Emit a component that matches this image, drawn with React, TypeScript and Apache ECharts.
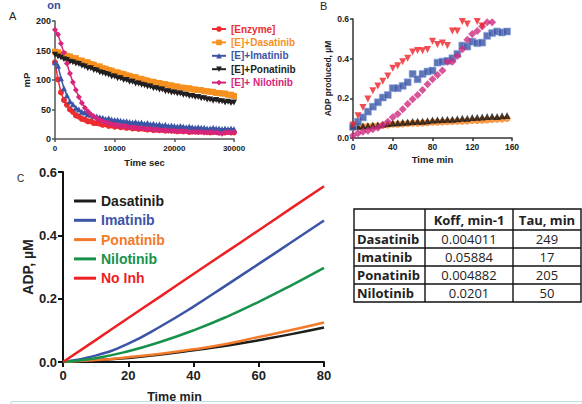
import React, { useEffect, useRef } from 'react';
import * as echarts from 'echarts';

const FONT = '"Liberation Sans", Arial, Helvetica, sans-serif';
const TFONT = '"Open Sans", "Noto Sans", sans-serif';

// ---------- Panel A (mP vs Time sec), samples every 500 s ----------
const aStepSec = 500;
const aNames = ['[Enzyme]', '[E]+Dasatinib', '[E]+Imatinib', '[E]+Ponatinib', '[E]+ Nilotinib'];
const aColors = ['#ee2b2e', '#f6901e', '#3a55a6', '#231f20', '#d6257c'];
const aSymbols = ['circle', 'rect', 'triangle', 'triangle', 'diamond'];
const aRotate = [0, 0, 0, 180, 0];
const aEnzyme = [130, 101, 79, 66, 58, 50, 46, 40, 38, 34, 33, 30, 30, 27, 27, 26, 24, 25, 22, 23, 21, 22, 20, 21, 19, 20, 18, 19, 17, 18, 17, 16, 17, 15, 16, 15, 16, 14, 15, 14, 14, 13, 14, 13, 14, 12, 13, 13, 12, 13, 12, 12, 11, 12, 12, 11, 12, 11, 12, 11, 11];
const aDasatinib = [148, 147, 144, 144, 141, 140, 137, 137, 133, 133, 130, 130, 127, 126, 123, 123, 120, 119, 117, 116, 113, 113, 111, 110, 108, 107, 105, 105, 102, 102, 100, 99, 97, 97, 95, 95, 93, 93, 91, 91, 89, 89, 87, 87, 86, 86, 84, 84, 83, 83, 81, 81, 80, 80, 78, 78, 77, 77, 75, 75, 73];
const aImatinib = [130, 124, 103, 86, 74, 64, 59, 53, 50, 46, 45, 42, 41, 39, 38, 37, 36, 34, 35, 33, 32, 32, 31, 30, 30, 29, 28, 29, 27, 28, 26, 27, 25, 26, 24, 25, 23, 24, 22, 23, 22, 21, 22, 21, 20, 21, 20, 19, 20, 19, 19, 18, 18, 19, 18, 18, 17, 18, 17, 18, 17];
const aPonatinib = [143, 140, 138, 135, 134, 131, 130, 128, 127, 124, 123, 120, 120, 117, 116, 113, 112, 110, 109, 106, 106, 103, 103, 100, 100, 97, 97, 94, 94, 92, 91, 89, 89, 86, 86, 84, 84, 81, 81, 79, 79, 77, 77, 75, 75, 73, 73, 71, 71, 69, 69, 67, 67, 65, 66, 64, 64, 62, 63, 61, 62];
const aNilotinib = [185, 177, 162, 146, 128, 111, 96, 83, 71, 61, 53, 47, 42, 38, 35, 32, 30, 28, 27, 25, 24, 23, 22, 22, 21, 20, 20, 19, 19, 18, 18, 17, 17, 16, 16, 15, 15, 15, 14, 14, 14, 13, 13, 13, 13, 12, 12, 12, 12, 12, 11, 11, 12, 11, 11, 10, 9, 11, 12, 11, 12];
const aSeriesValues = [aEnzyme, aDasatinib, aImatinib, aPonatinib, aNilotinib];
const aYTicks = { min: 0, max: 200, interval: 50 };
const aXTicks = { min: 0, max: 30000, interval: 10000 };

// ---------- Panel B (ADP produced, µM vs Time min) ----------
const bRedTimes = [0, 5, 10, 15, 20, 25, 30, 35, 40, 45, 50, 55, 60, 65, 70, 75, 80, 85, 90, 95, 100, 105, 110, 115, 125, 130];
const bRed = [0.066, 0.112, 0.154, 0.197, 0.238, 0.262, 0.286, 0.313, 0.352, 0.364, 0.385, 0.402, 0.434, 0.441, 0.44, 0.446, 0.488, 0.472, 0.479, 0.466, 0.539, 0.539, 0.587, 0.575, 0.587, 0.565];
const bBlueTimes = [0, 5, 10, 15, 20, 25, 30, 35, 40, 45, 50, 55, 60, 65, 70, 75, 80, 85, 90, 95, 100, 105, 110, 115, 120, 125, 130, 135, 140, 145, 150, 155];
const bBlue = [0.057, 0.082, 0.104, 0.133, 0.158, 0.18, 0.204, 0.217, 0.251, 0.251, 0.263, 0.281, 0.323, 0.296, 0.323, 0.335, 0.34, 0.38, 0.385, 0.389, 0.402, 0.424, 0.466, 0.461, 0.486, 0.478, 0.481, 0.515, 0.529, 0.537, 0.532, 0.537];
const bMagentaTimes = [0, 5, 10, 15, 20, 25, 30, 35, 40, 45, 50, 55, 60, 65, 70, 75, 80, 85, 90, 95, 100, 105, 110, 115, 120, 125, 130, 135, 140];
const bMagenta = [0.013, 0.024, 0.032, 0.037, 0.044, 0.052, 0.066, 0.082, 0.104, 0.121, 0.145, 0.172, 0.195, 0.217, 0.242, 0.271, 0.296, 0.318, 0.34, 0.385, 0.385, 0.414, 0.448, 0.495, 0.524, 0.54, 0.562, 0.584, 0.584];
const bFlatTimes = [0, 5, 10, 15, 20, 25, 30, 35, 40, 45, 50, 55, 60, 65, 70, 75, 80, 85, 90, 95, 100, 105, 110, 115, 120, 125, 130, 135, 140, 145, 150, 155];
const bBlack = [0.057, 0.059, 0.06, 0.062, 0.064, 0.066, 0.069, 0.073, 0.076, 0.077, 0.079, 0.081, 0.083, 0.084, 0.085, 0.087, 0.091, 0.092, 0.093, 0.094, 0.095, 0.097, 0.099, 0.1, 0.103, 0.104, 0.106, 0.108, 0.11, 0.109, 0.112, 0.113];
const bOrange = [0.055, 0.056, 0.057, 0.059, 0.06, 0.062, 0.064, 0.066, 0.069, 0.07, 0.071, 0.073, 0.074, 0.075, 0.076, 0.077, 0.079, 0.08, 0.081, 0.082, 0.083, 0.084, 0.085, 0.086, 0.088, 0.089, 0.09, 0.091, 0.093, 0.095, 0.096, 0.098];

// ---------- Panel C (ADP, µM vs Time min) ----------
const cTimes = [0, 10, 20, 30, 40, 50, 60, 70, 80];
const cNames = ['Dasatinib', 'Imatinib', 'Ponatinib', 'Nilotinib', 'No Inh'];
const cColors = ['#1d1d1b', '#3b54a5', '#f37a2b', '#17924a', '#ed2024'];
const cDasatinib = [0, 0.006, 0.013, 0.024, 0.037, 0.051, 0.069, 0.088, 0.109];
const cImatinib = [0, 0.02, 0.058, 0.113, 0.175, 0.242, 0.31, 0.378, 0.447];
const cPonatinib = [0, 0.006, 0.015, 0.026, 0.04, 0.057, 0.079, 0.101, 0.125];
const cNilotinib = [0, 0.012, 0.034, 0.064, 0.1, 0.142, 0.19, 0.242, 0.297];
const cNoInh = [0, 0.069, 0.139, 0.208, 0.278, 0.347, 0.416, 0.486, 0.555];
const cSeriesValues = [cDasatinib, cImatinib, cPonatinib, cNilotinib, cNoInh];

// ---------- Table ----------
const tableHeader = ['', 'Koff, min-1', 'Tau, min'];
const tableDrugs = ['Dasatinib', 'Imatinib', 'Ponatinib', 'Nilotinib'];
const tableKoff = ['0.004011', '0.05884', '0.004882', '0.0201'];
const tableTau = ['249', '17', '205', '50'];

function buildTable(): any[] {
  const x0 = 354, x1 = 425, x2 = 513, x3 = 581;
  const rows = [209, 230, 248, 266, 284, 302];
  const els: any[] = [];
  const ls = { stroke: '#111', lineWidth: 1.4 };
  els.push({ type: 'rect', shape: { x: x0, y: rows[0], width: x3 - x0, height: rows[5] - rows[0] }, style: { fill: '#fff', ...ls }, z: 10 });
  for (let i = 1; i < rows.length - 1; i++) {
    els.push({ type: 'line', shape: { x1: x0, y1: rows[i], x2: x3, y2: rows[i] }, style: ls, z: 11 });
  }
  [x1, x2].forEach((x) => els.push({ type: 'line', shape: { x1: x, y1: rows[0], x2: x, y2: rows[5] }, style: ls, z: 11 }));
  const cx2 = (x1 + x2) / 2, cx3 = (x2 + x3) / 2;
  const hy = (rows[0] + rows[1]) / 2;
  els.push({ type: 'text', x: cx2, y: hy, style: { text: tableHeader[1], font: `bold 13px ${TFONT}`, fill: '#222', align: 'center', verticalAlign: 'middle' }, z: 12 });
  els.push({ type: 'text', x: cx3, y: hy, style: { text: tableHeader[2], font: `bold 13px ${TFONT}`, fill: '#222', align: 'center', verticalAlign: 'middle' }, z: 12 });
  tableDrugs.forEach((d, i) => {
    const cy = (rows[i + 1] + rows[i + 2]) / 2;
    els.push({ type: 'text', x: x0 + 3, y: cy, style: { text: d, font: `bold 13px ${TFONT}`, fill: '#222', align: 'left', verticalAlign: 'middle' }, z: 12 });
    els.push({ type: 'text', x: cx2, y: cy, style: { text: tableKoff[i], font: `13px ${TFONT}`, fill: '#222', align: 'center', verticalAlign: 'middle' }, z: 12 });
    els.push({ type: 'text', x: cx3, y: cy, style: { text: tableTau[i], font: `13px ${TFONT}`, fill: '#222', align: 'center', verticalAlign: 'middle' }, z: 12 });
  });
  return els;
}

export default function App() {
  const ref = useRef<HTMLDivElement>(null);
  useEffect(() => {
    if (!ref.current) return;
    const chart = echarts.init(ref.current, null, { renderer: 'svg' });

    const axA = { color: '#555', width: 1.5 };
    const axB = { color: '#333', width: 1.5 };
    const axC = { color: '#111', width: 2 };
    const boldLbl = (size: number) => ({ fontFamily: FONT, fontWeight: 'bold', fontSize: size, color: '#222' });

    const series: any[] = [];
    aSeriesValues.forEach((vals, i) => {
      series.push({
        name: aNames[i], type: 'line', xAxisIndex: 0, yAxisIndex: 0,
        data: vals.map((v, k) => [k * aStepSec, v]),
        symbol: aSymbols[i], symbolRotate: aRotate[i], symbolSize: 6,
        lineStyle: { color: aColors[i], width: 1.5 },
        itemStyle: { color: aColors[i] },
      });
    });
    const bDefs = [
      { name: 'B orange', t: bFlatTimes, v: bOrange, c: '#f58220', s: 'circle', r: 0, z: 6 },
      { name: 'B black', t: bFlatTimes, v: bBlack, c: '#151515', s: 'triangle', r: 0, z: 7 },
      { name: 'B blue', t: bBlueTimes, v: bBlue, c: '#3852a4', s: 'rect', r: 0, z: 8 },
      { name: 'B magenta', t: bMagentaTimes, v: bMagenta, c: '#cf2a7f', s: 'diamond', r: 0, z: 9 },
      { name: 'B red', t: bRedTimes, v: bRed, c: '#ee2027', s: 'triangle', r: 180, z: 10 },
    ];
    bDefs.forEach((d) => {
      series.push({
        name: d.name, type: 'scatter', xAxisIndex: 1, yAxisIndex: 1,
        data: d.t.map((t, k) => [t, d.v[k]]),
        symbol: d.s, symbolRotate: d.r, symbolSize: d.s === 'diamond' ? 8 : 7,
        itemStyle: d.s === 'rect' ? { color: d.c, borderColor: 'rgba(140,170,225,0.7)', borderWidth: 1 } : { color: d.c },
        z: d.z,
      });
    });
    cSeriesValues.forEach((vals, i) => {
      series.push({
        name: cNames[i], type: 'line', xAxisIndex: 2, yAxisIndex: 2,
        data: vals.map((v, k) => [cTimes[k], v]),
        symbol: 'none', smooth: true,
        lineStyle: { color: cColors[i], width: 2.5 },
        itemStyle: { color: cColors[i] },
      });
    });

    chart.setOption({
      animation: false,
      backgroundColor: '#fff',
      grid: [
        { left: 55, top: 21, width: 179, height: 118 },
        { left: 353, top: 19, width: 159, height: 119 },
        { left: 63, top: 172, width: 261, height: 192 },
      ],
      xAxis: [
        {
          gridIndex: 0, type: 'value', ...aXTicks,
          name: 'Time sec', nameLocation: 'middle', nameGap: 18, nameTextStyle: boldLbl(9.5),
          axisLine: { lineStyle: axA }, axisTick: { length: 3, lineStyle: axA },
          axisLabel: { ...boldLbl(8), margin: 5, formatter: (v: number) => String(v) }, splitLine: { show: false },
        },
        {
          gridIndex: 1, type: 'value', min: 0, max: 160, interval: 40,
          name: 'Time min', nameLocation: 'middle', nameGap: 16, nameTextStyle: boldLbl(9.5),
          axisLine: { lineStyle: axB }, axisTick: { length: 3, lineStyle: axB },
          axisLabel: { ...boldLbl(8.5), margin: 4 }, splitLine: { show: false },
        },
        {
          gridIndex: 2, type: 'value', min: 0, max: 80, interval: 20,
          name: 'Time min', nameLocation: 'middle', nameGap: 28,
          nameTextStyle: { ...boldLbl(12.5), padding: [0, 38, 0, 0] },
          axisLine: { lineStyle: axC }, axisTick: { length: 5, lineStyle: axC },
          axisLabel: { ...boldLbl(13), margin: 7 }, splitLine: { show: false },
        },
      ],
      yAxis: [
        {
          gridIndex: 0, type: 'value', ...aYTicks,
          name: 'mP', nameLocation: 'middle', nameGap: 24, nameTextStyle: boldLbl(9.5),
          axisLine: { show: true, lineStyle: axA }, axisTick: { show: true, length: 3, lineStyle: axA },
          axisLabel: { ...boldLbl(9), margin: 4 }, splitLine: { show: false },
        },
        {
          gridIndex: 1, type: 'value', min: 0, max: 0.6, interval: 0.2,
          name: 'ADP produced, µM', nameLocation: 'middle', nameGap: 21, nameTextStyle: boldLbl(8.5),
          axisLine: { show: true, lineStyle: axB }, axisTick: { show: true, length: 3, lineStyle: axB },
          axisLabel: { ...boldLbl(8.5), margin: 4, formatter: (v: number) => v.toFixed(1) }, splitLine: { show: false },
        },
        {
          gridIndex: 2, type: 'value', min: 0, max: 0.6, interval: 0.2,
          name: 'ADP, µM', nameLocation: 'middle', nameGap: 28, nameTextStyle: boldLbl(14),
          axisLine: { show: true, lineStyle: axC }, axisTick: { show: true, length: 5, lineStyle: axC },
          axisLabel: { ...boldLbl(13), margin: 6, formatter: (v: number) => v.toFixed(1) }, splitLine: { show: false },
        },
      ],
      legend: [
        {
          data: aNames.map((n, i) => ({ name: n, textStyle: { color: aColors[i] } })),
          orient: 'vertical', left: 211, top: 24, itemWidth: 14, itemHeight: 7, itemGap: 3.4,
          selectedMode: false, padding: 0,
          textStyle: { fontFamily: FONT, fontWeight: 'bold', fontSize: 10 },
        },
        {
          data: cNames.map((n, i) => ({ name: n, icon: 'rect', textStyle: { color: cColors[i] } })),
          orient: 'vertical', left: 74, top: 194, itemWidth: 22, itemHeight: 3, itemGap: 5.3,
          selectedMode: false, padding: 0,
          textStyle: { fontFamily: FONT, fontWeight: 'bold', fontSize: 14 },
        },
      ],
      graphic: [
        { type: 'text', x: 54, y: -1, style: { text: 'on', font: `bold 11px ${FONT}`, fill: '#2f4da0', align: 'center', verticalAlign: 'top' } },
        { type: 'text', x: 9, y: 16, style: { text: 'A', font: `11px ${FONT}`, fill: '#222', verticalAlign: 'middle' } },
        { type: 'text', x: 320, y: 6, style: { text: 'B', font: `11px ${FONT}`, fill: '#222', verticalAlign: 'middle' } },
        { type: 'text', x: 17, y: 178, style: { text: 'C', font: `10px ${FONT}`, fill: '#222', verticalAlign: 'middle' } },
        { type: 'rect', shape: { x: 11, y: 401.5, width: 600, height: 30 }, style: { fill: '#f7fbfc', stroke: '#bfdfe8', lineWidth: 1 } },
        ...buildTable(),
      ],
      series,
    });
    return () => chart.dispose();
  }, []);
  return <div ref={ref} style={{ position: 'fixed', left: 0, top: 0, width: 582, height: 404, background: '#fff' }} />;
}
